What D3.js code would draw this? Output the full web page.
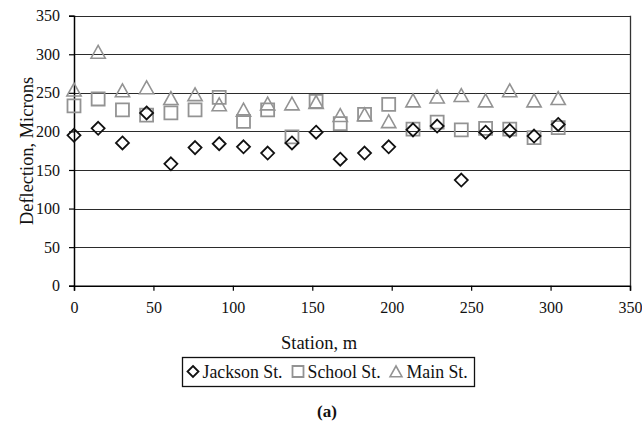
<!DOCTYPE html>
<html>
<head>
<meta charset="utf-8">
<script src="https://cdn.jsdelivr.net/npm/d3@7"></script>
<style>
  html, body { margin: 0; padding: 0; background: #fff; }
  svg { display: block; }
  svg text { font-family: "Liberation Serif", "Times New Roman", Times, "DejaVu Serif", "Noto Serif", serif !important; }
</style>
</head>
<body>
<svg id="chart" width="642" height="421"></svg>
<script>
// Station positions along the street (m)
const stations = [0, 15.2, 30.5, 45.7, 61.0, 76.2, 91.4, 106.7, 121.9, 137.2, 152.4,
                  167.6, 182.9, 198.1, 213.4, 228.6, 243.8, 259.1, 274.3, 289.6, 304.8];

// Deflection readings (microns) per street
const jackson = [195, 204, 185, 224, 158, 179, 184, 180, 172, 185, 199,
                 164, 172, 180, 202, 207, 137, 199, 201, 194, 209];
const school  = [233, 242, 228, 221, 224, 228, 244, 213, 228, 193, 239,
                 210, 222, 235, 203, 212, 202, 204, 203, 192, 205];
const main    = [254, 303, 253, 257, 243, 248, 235, 228, 236, 236, 238,
                 221, 222, 213, 240, 245, 247, 240, 253, 240, 243];

const xTicks = [0, 50, 100, 150, 200, 250, 300, 350];
const yTicks = [0, 50, 100, 150, 200, 250, 300, 350];

const seriesNames = ["Jackson St.", "School St.", "Main St."];

const svg = d3.select("#chart");
const plot = { left: 74, right: 630, top: 15.7, bottom: 285.7 };

const x = d3.scaleLinear().domain([0, 350]).range([plot.left, plot.right]);
const y = d3.scaleLinear().domain([0, 350]).range([plot.bottom, plot.top]);

// Horizontal gridlines
svg.append("g")
  .selectAll("line")
  .data(yTicks.filter(d => d > 0))
  .join("line")
  .attr("x1", plot.left).attr("x2", plot.right)
  .attr("y1", d => Math.round(y(d)) + 0.5).attr("y2", d => Math.round(y(d)) + 0.5)
  .attr("stroke", "#2b2b2b").attr("stroke-width", 1.2);

// Right border of plot area
svg.append("line")
  .attr("x1", plot.right + 0.5).attr("x2", plot.right + 0.5)
  .attr("y1", y(350)).attr("y2", y(0))
  .attr("stroke", "#333").attr("stroke-width", 1.3);

// Y axis
const yAxis = svg.append("g")
  .attr("transform", `translate(${plot.left},0)`)
  .call(d3.axisLeft(y).tickValues(yTicks).tickSize(5).tickPadding(9).tickFormat(d3.format("d")));
yAxis.select(".domain").attr("stroke", "#000").attr("stroke-width", 1.5);
yAxis.selectAll(".tick line").attr("stroke", "#000").attr("stroke-width", 1.2);
yAxis.selectAll(".tick text").attr("font-size", 16).attr("fill", "#111");

// X axis
const xAxis = svg.append("g")
  .attr("transform", `translate(0,${plot.bottom})`)
  .call(d3.axisBottom(x).tickValues(xTicks).tickSize(5).tickPadding(11).tickFormat(d3.format("d")));
xAxis.select(".domain").attr("stroke", "#000").attr("stroke-width", 1.5);
xAxis.selectAll(".tick line").attr("stroke", "#000").attr("stroke-width", 1.2);
xAxis.selectAll(".tick text").attr("font-size", 16).attr("fill", "#111");

// Axis titles
svg.append("text")
  .attr("transform", `translate(33,151) rotate(-90)`)
  .attr("text-anchor", "middle")
  .attr("font-size", 18.4).attr("fill", "#111")
  .text("Deflection, Microns");

svg.append("text")
  .attr("x", 319).attr("y", 349)
  .attr("text-anchor", "middle")
  .attr("font-size", 18.5).attr("fill", "#111")
  .text("Station, m");

// Marker shapes
function diamond(s) { return `M0,${-s}L${s},0L0,${s}L${-s},0Z`; }
function square(s) { return `M${-s},${-s}H${s}V${s}H${-s}Z`; }
function triangle(s) { return `M0,${-s}L${s * 1.08},${s * 0.95}H${-s * 1.08}Z`; }

const gray = "#939393";
const styles = [
  { shape: diamond, color: "#111", size: 6.5, width: 1.8 },
  { shape: square, color: gray, size: 6.5, width: 1.8 },
  { shape: triangle, color: gray, size: 6.6, width: 1.6 }
];

function drawSeries(values, st) {
  svg.append("g")
    .selectAll("path")
    .data(values.map((v, i) => [stations[i], v]))
    .join("path")
    .attr("transform", d => `translate(${x(d[0])},${y(d[1])})`)
    .attr("d", st.shape(st.size))
    .attr("fill", "none")
    .attr("stroke", st.color)
    .attr("stroke-width", st.width)
    .attr("stroke-linejoin", "miter");
}

drawSeries(main, styles[2]);
drawSeries(school, styles[1]);
drawSeries(jackson, styles[0]);

// Legend
const legend = svg.append("g");
legend.append("rect")
  .attr("x", 182.5).attr("y", 357.5).attr("width", 292).attr("height", 29)
  .attr("fill", "#fff").attr("stroke", "#111").attr("stroke-width", 1.3);

const legendItems = [
  { mx: 193, tx: 202.5 },
  { mx: 298, tx: 307.5 },
  { mx: 396, tx: 406.5 }
];
legendItems.forEach((it, i) => {
  const st = styles[i];
  legend.append("path")
    .attr("transform", `translate(${it.mx},371.5)`)
    .attr("d", st.shape(5.5))
    .attr("fill", "none").attr("stroke", st.color).attr("stroke-width", st.width);
  legend.append("text")
    .attr("x", it.tx).attr("y", 377.5)
    .attr("font-size", 17.8).attr("fill", "#111")
    .text(seriesNames[i]);
});

// Panel label
svg.append("text")
  .attr("x", 327).attr("y", 417)
  .attr("text-anchor", "middle")
  .attr("font-size", 17).attr("font-weight", "bold").attr("fill", "#111")
  .text("(a)");
</script>
</body>
</html>
